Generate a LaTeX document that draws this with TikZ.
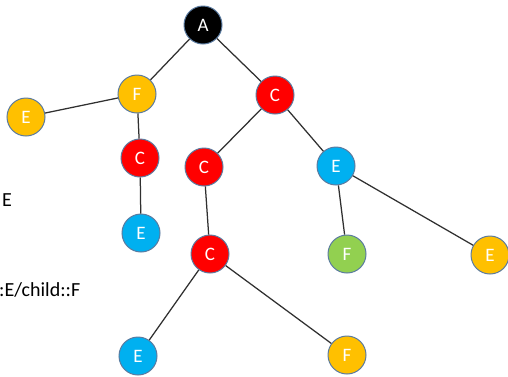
\documentclass[tikz,border=0pt]{standalone}
\usepackage{fontspec}
\setmainfont{Carlito}
\definecolor{nodeline}{HTML}{5B7BA0}
\definecolor{edgeline}{HTML}{303030}
\definecolor{cyel}{HTML}{FFC000}
\definecolor{cred}{HTML}{FF0000}
\definecolor{cblue}{HTML}{00B0F0}
\definecolor{cgreen}{HTML}{92D050}
\tikzset{
  tn/.style={circle, draw=nodeline, line width=1pt, minimum size=38pt, inner sep=0pt,
             text=white, font=\fontsize{19}{19}\selectfont},
  ny/.style={tn, fill=cyel},
  nr/.style={tn, fill=cred},
  nb/.style={tn, fill=cblue},
  ng/.style={tn, fill=cgreen},
  nk/.style={tn, fill=black},
  edge/.style={draw=edgeline, line width=1.25pt},
  lbl/.style={font=\fontsize{20}{20}\selectfont, text=black, inner sep=0pt}
}
\begin{document}
\begin{tikzpicture}[x=1pt, y=-1pt]
\useasboundingbox (0,0) rectangle (508,376);
\fill[white] (0,0) rectangle (508,376);

% labels at the left edge
\node[lbl, anchor=west] (t1) at (2,200) {E};
\node[lbl, anchor=west] (t2) at (-1,290) {:E/child::F};

% tree nodes
\node[nk] (a)   at (203,25)  {A};
\node[ny] (f1)  at (137,94)  {F};
\node[ny] (e1)  at (26,117)  {E};
\node[nr] (c1)  at (140,158) {C};
\node[nb] (e2)  at (141,233) {E};
\node[nr] (c2)  at (275,95)  {C};
\node[nr] (c3)  at (204,167) {C};
\node[nb] (e3)  at (336,166) {E};
\node[nr] (c4)  at (210,254) {C};
\node[ng] (f2)  at (347,254) {F};
\node[ny] (e4)  at (490,255) {E};
\node[nb] (e5)  at (138,356) {E};
\node[ny] (f3)  at (347,355) {F};

% connectors
\draw[edge] (a) -- (f1);
\draw[edge] (a) -- (c2);
\draw[edge] (f1) -- (e1);
\draw[edge] (f1) -- (c1);
\draw[edge] (c1) -- (e2);
\draw[edge] (c2) -- (c3);
\draw[edge] (c2) -- (e3);
\draw[edge] (c3) -- (c4);
\draw[edge] (e3) -- (f2);
\draw[edge] (e3) -- (e4);
\draw[edge] (c4) -- (e5);
\draw[edge] (c4) -- (f3);
\end{tikzpicture}
\end{document}
